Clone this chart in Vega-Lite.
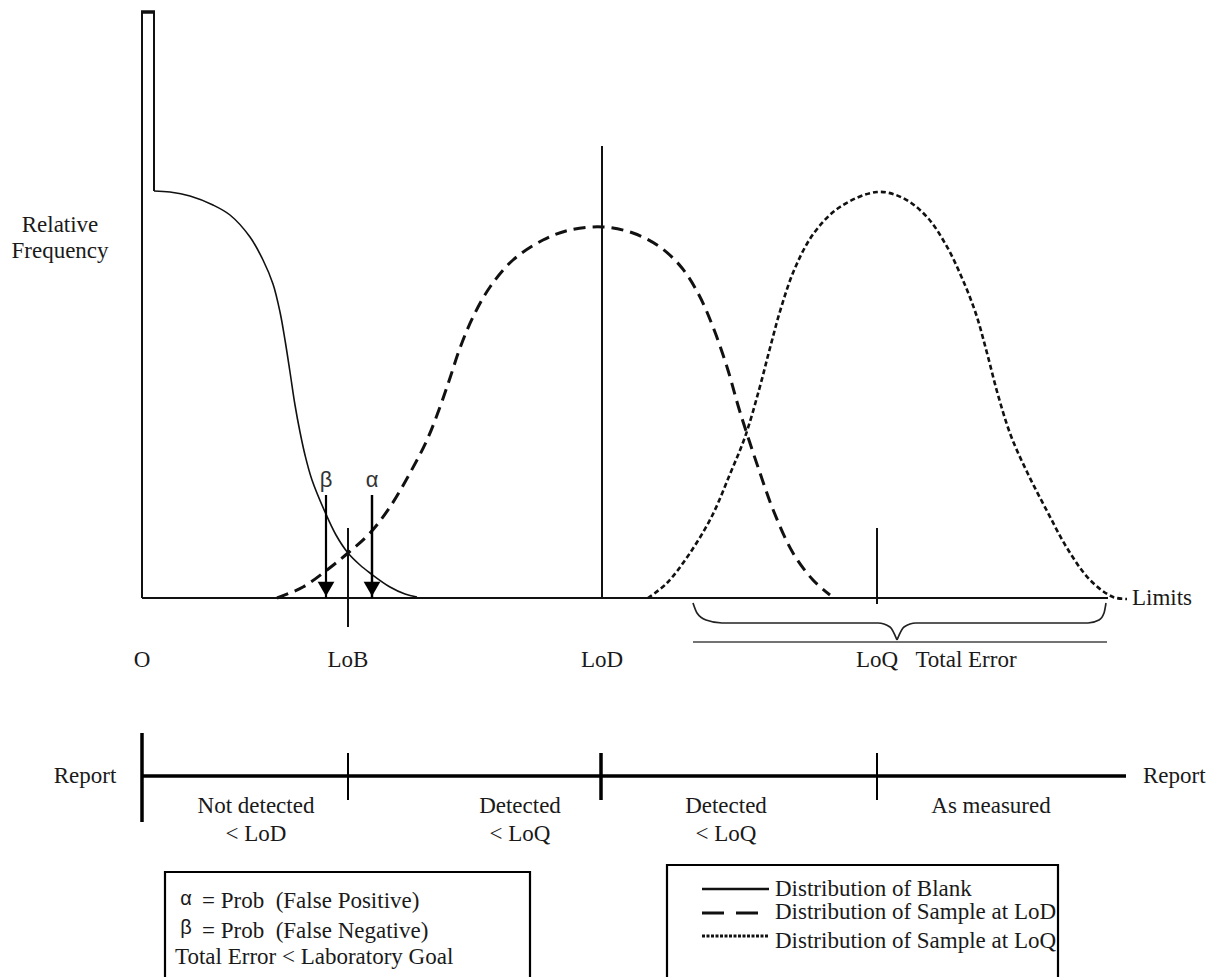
{
  "$schema": "https://vega.github.io/schema/vega-lite/v6.json",
  "width": 1223,
  "height": 977,
  "autosize": "none",
  "padding": 0,
  "background": "white",
  "config": {"view": {"stroke": null}},
  "datasets": {
    "spike": [
      {"x": 142, "y": 598}, {"x": 142, "y": 12}, {"x": 154, "y": 12}, {"x": 154, "y": 191}
    ],
    "blank": [
      {"x": 154, "y": 191}, {"x": 170, "y": 192}, {"x": 190, "y": 196}, {"x": 213, "y": 205},
      {"x": 230, "y": 215}, {"x": 250, "y": 237}, {"x": 263, "y": 260}, {"x": 273, "y": 284},
      {"x": 280, "y": 312}, {"x": 285, "y": 340}, {"x": 290, "y": 372}, {"x": 295, "y": 405},
      {"x": 300, "y": 432}, {"x": 305, "y": 455}, {"x": 312, "y": 480}, {"x": 325, "y": 512},
      {"x": 336, "y": 535}, {"x": 348, "y": 553}, {"x": 360, "y": 565}, {"x": 370, "y": 573},
      {"x": 390, "y": 587}, {"x": 405, "y": 594}, {"x": 417, "y": 597}
    ],
    "lod": [
      {"x": 277, "y": 598}, {"x": 303, "y": 587}, {"x": 327, "y": 570}, {"x": 348, "y": 553},
      {"x": 370, "y": 533}, {"x": 390, "y": 507}, {"x": 410, "y": 473}, {"x": 427, "y": 440},
      {"x": 440, "y": 407}, {"x": 450, "y": 378}, {"x": 460, "y": 348}, {"x": 473, "y": 317},
      {"x": 490, "y": 287}, {"x": 513, "y": 260}, {"x": 543, "y": 240}, {"x": 570, "y": 230},
      {"x": 603, "y": 227}, {"x": 633, "y": 233}, {"x": 660, "y": 247}, {"x": 682, "y": 268},
      {"x": 699, "y": 295}, {"x": 713, "y": 327}, {"x": 727, "y": 367}, {"x": 740, "y": 412},
      {"x": 760, "y": 473}, {"x": 774, "y": 512}, {"x": 793, "y": 553}, {"x": 813, "y": 580},
      {"x": 830, "y": 595}
    ],
    "loq": [
      {"x": 648, "y": 598}, {"x": 667, "y": 583}, {"x": 690, "y": 553}, {"x": 712, "y": 516},
      {"x": 730, "y": 474}, {"x": 745, "y": 437}, {"x": 759, "y": 390}, {"x": 770, "y": 348},
      {"x": 781, "y": 308}, {"x": 795, "y": 268}, {"x": 814, "y": 233}, {"x": 840, "y": 207},
      {"x": 877, "y": 192}, {"x": 903, "y": 198}, {"x": 927, "y": 217}, {"x": 946, "y": 245},
      {"x": 962, "y": 278}, {"x": 976, "y": 314}, {"x": 987, "y": 353}, {"x": 998, "y": 395},
      {"x": 1011, "y": 436}, {"x": 1028, "y": 474}, {"x": 1047, "y": 511}, {"x": 1067, "y": 548},
      {"x": 1090, "y": 580}, {"x": 1113, "y": 597}, {"x": 1127, "y": 599}
    ],
    "braceLeft": [
      {"x": 693, "y": 603}, {"x": 697, "y": 613}, {"x": 706, "y": 620}, {"x": 722, "y": 623},
      {"x": 878, "y": 623}, {"x": 890, "y": 627}, {"x": 897, "y": 640}
    ],
    "braceRight": [
      {"x": 897, "y": 640}, {"x": 904, "y": 627}, {"x": 916, "y": 623}, {"x": 1088, "y": 623},
      {"x": 1099, "y": 620}, {"x": 1104, "y": 613}, {"x": 1106, "y": 603}
    ],
    "axisRules": [
      {"x": 142, "y": 598, "x2": 1108, "y2": 598},
      {"x": 348, "y": 528, "x2": 348, "y2": 627},
      {"x": 602, "y": 146, "x2": 602, "y2": 598},
      {"x": 877, "y": 528, "x2": 877, "y2": 604}
    ],
    "spikeTop": [{"x": 141, "y": 12, "x2": 155, "y2": 12}],
    "underline": [{"x": 693, "y": 642, "x2": 1107, "y2": 642}],
    "reportMain": [
      {"x": 142, "y": 776, "x2": 1126, "y2": 776},
      {"x": 142, "y": 733, "x2": 142, "y2": 822},
      {"x": 601, "y": 753, "x2": 601, "y2": 800}
    ],
    "reportTicks": [
      {"x": 348, "y": 753, "x2": 348, "y2": 800},
      {"x": 877, "y": 753, "x2": 877, "y2": 800}
    ],
    "arrows": [
      {"sym": "β", "x": 326, "top": 495, "tip": 598},
      {"sym": "α", "x": 372, "top": 495, "tip": 598}
    ],
    "boxes": [
      {"x": 165, "y": 872, "x2": 530, "y2": 995},
      {"x": 667, "y": 865, "x2": 1058, "y2": 995}
    ],
    "legendLines": [
      {"series": "Blank", "x": 702, "x2": 769, "y": 889},
      {"series": "LoD", "x": 702, "x2": 769, "y": 913},
      {"series": "LoQ", "x": 702, "x2": 769, "y": 936}
    ],
    "textCenter": [
      {"text": "Relative", "x": 60, "y": 225},
      {"text": "Frequency", "x": 60, "y": 251},
      {"text": "O", "x": 142, "y": 660},
      {"text": "LoB", "x": 348, "y": 660},
      {"text": "LoD", "x": 602, "y": 660},
      {"text": "LoQ", "x": 877, "y": 660},
      {"text": "Total Error", "x": 966, "y": 660},
      {"text": "Report", "x": 85, "y": 776},
      {"text": "Not detected", "x": 256, "y": 806},
      {"text": "< LoD", "x": 256, "y": 834},
      {"text": "Detected", "x": 520, "y": 806},
      {"text": "< LoQ", "x": 520, "y": 834},
      {"text": "Detected", "x": 726, "y": 806},
      {"text": "< LoQ", "x": 726, "y": 834},
      {"text": "As measured", "x": 991, "y": 806}
    ],
    "textLeft": [
      {"text": "Limits", "x": 1132, "y": 598},
      {"text": "Report", "x": 1143, "y": 776},
      {"text": "= Prob \u00a0(False Positive)", "x": 202, "y": 901},
      {"text": "= Prob \u00a0(False Negative)", "x": 202, "y": 931},
      {"text": "Total Error < Laboratory Goal", "x": 175, "y": 957},
      {"text": "Distribution of Blank", "x": 775, "y": 889},
      {"text": "Distribution of Sample at LoD", "x": 775, "y": 912},
      {"text": "Distribution of Sample at LoQ", "x": 775, "y": 941}
    ],
    "greek": [
      {"text": "α", "x": 186, "y": 899},
      {"text": "β", "x": 186, "y": 928}
    ]
  },
  "encoding": {
    "x": {"field": "x", "type": "quantitative", "scale": {"domain": [0, 1223], "nice": false, "zero": false}, "axis": null},
    "y": {"field": "y", "type": "quantitative", "scale": {"domain": [0, 977], "nice": false, "zero": false, "reverse": true}, "axis": null}
  },
  "layer": [
    {"data": {"name": "spike"}, "mark": {"type": "line", "color": "#111", "strokeWidth": 2}, "encoding": {"order": {"value": null}}},
    {"data": {"name": "spikeTop"}, "mark": {"type": "rule", "color": "#111", "strokeWidth": 3.5}, "encoding": {"x2": {"field": "x2"}, "y2": {"field": "y2"}}},
    {"data": {"name": "blank"}, "mark": {"type": "line", "color": "#111", "strokeWidth": 1.6, "interpolate": "catmull-rom"}, "encoding": {}},
    {"data": {"name": "lod"}, "mark": {"type": "line", "color": "#111", "strokeWidth": 3, "strokeDash": [12, 7], "interpolate": "catmull-rom"}, "encoding": {}},
    {"data": {"name": "loq"}, "mark": {"type": "line", "color": "#111", "strokeWidth": 2.6, "strokeDash": [5, 3], "interpolate": "catmull-rom"}, "encoding": {}},
    {"data": {"name": "axisRules"}, "mark": {"type": "rule", "color": "#111", "strokeWidth": 2}, "encoding": {"x2": {"field": "x2"}, "y2": {"field": "y2"}}},
    {"data": {"name": "braceLeft"}, "mark": {"type": "line", "color": "#222", "strokeWidth": 1.7, "interpolate": "monotone"}, "encoding": {}},
    {"data": {"name": "braceRight"}, "mark": {"type": "line", "color": "#222", "strokeWidth": 1.7, "interpolate": "monotone"}, "encoding": {}},
    {"data": {"name": "underline"}, "mark": {"type": "rule", "color": "#444", "strokeWidth": 1.3}, "encoding": {"x2": {"field": "x2"}, "y2": {"field": "y2"}}},
    {"data": {"name": "reportMain"}, "mark": {"type": "rule", "color": "#000", "strokeWidth": 3.5}, "encoding": {"x2": {"field": "x2"}, "y2": {"field": "y2"}}},
    {"data": {"name": "reportTicks"}, "mark": {"type": "rule", "color": "#000", "strokeWidth": 2}, "encoding": {"x2": {"field": "x2"}, "y2": {"field": "y2"}}},
    {"data": {"name": "arrows"}, "mark": {"type": "rule", "color": "#000"},
      "encoding": {"y": {"field": "top", "type": "quantitative"}, "y2": {"field": "tip"},
        "strokeWidth": {"field": "sym", "type": "nominal", "scale": {"domain": ["β", "α"], "range": [2.2, 3.2]}, "legend": null}}},
    {"data": {"name": "arrows"}, "mark": {"type": "point", "shape": "triangle-down", "filled": true, "color": "#000", "size": 280, "opacity": 1, "yOffset": -9},
      "encoding": {"y": {"field": "tip", "type": "quantitative"}}},
    {"data": {"name": "arrows"}, "mark": {"type": "text", "font": "Liberation Sans", "fontSize": 22, "color": "#333", "dy": -15, "baseline": "middle"},
      "encoding": {"y": {"field": "top", "type": "quantitative"}, "text": {"field": "sym"}}},
    {"data": {"name": "boxes"}, "mark": {"type": "rect", "fill": null, "stroke": "#000", "strokeWidth": 2.2}, "encoding": {"x2": {"field": "x2"}, "y2": {"field": "y2"}}},
    {"data": {"name": "legendLines"}, "mark": {"type": "rule", "color": "#111"},
      "encoding": {"x2": {"field": "x2"},
        "strokeDash": {"field": "series", "type": "nominal", "scale": {"domain": ["Blank", "LoD", "LoQ"], "range": [[1, 0], [22, 12], [3, 1.5]]}, "legend": null},
        "strokeWidth": {"field": "series", "type": "nominal", "scale": {"domain": ["Blank", "LoD", "LoQ"], "range": [1.5, 3.5, 2.2]}, "legend": null}}},
    {"data": {"name": "textCenter"}, "mark": {"type": "text", "font": "Liberation Serif", "fontSize": 23, "color": "#1a1a1a", "align": "center", "baseline": "middle"}, "encoding": {"text": {"field": "text"}}},
    {"data": {"name": "textLeft"}, "mark": {"type": "text", "font": "Liberation Serif", "fontSize": 23, "color": "#1a1a1a", "align": "left", "baseline": "middle"}, "encoding": {"text": {"field": "text"}}},
    {"data": {"name": "greek"}, "mark": {"type": "text", "font": "Liberation Sans", "fontSize": 20, "color": "#1a1a1a", "align": "center", "baseline": "middle"}, "encoding": {"text": {"field": "text"}}}
  ]
}
